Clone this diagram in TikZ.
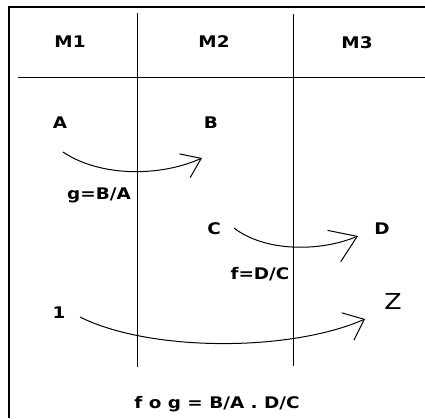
\documentclass[tikz,border=0pt]{standalone}
\usepackage{fontspec}
\setmainfont{DejaVu Sans}[FakeStretch=1.15]
\usetikzlibrary{arrows.meta}
\begin{document}
\begin{tikzpicture}[x=1pt,y=-1pt,
  lbl/.style={inner sep=0pt, anchor=base, font=\fontsize{16}{19}\selectfont\bfseries},
  bigl/.style={inner sep=0pt, anchor=base, font=\fontsize{22}{26}\selectfont},
  frameline/.style={line width=2.5pt},
  gridline/.style={line width=1pt},
  arcline/.style={line width=1pt}]
\useasboundingbox (0,0) rectangle (425,418);
% frame
\draw[frameline] (9,418) -- (9,7) -- (425,7);
% table lines
\draw[gridline] (18,77) -- (425,77);
\draw[gridline] (137,13) -- (137,367);
\draw[gridline] (293,14) -- (293,366);
% headers
\node[lbl] (m1) at (70,47) {M1};
\node[lbl] (m2) at (214,47) {M2};
\node[lbl] (m3) at (357,48) {M3};
% letters
\node[lbl] (A) at (60,128) {A};
\node[lbl] (B) at (211,128) {B};
\node[lbl] (C) at (214,234) {C};
\node[lbl] (D) at (382,234) {D};
\node[lbl] (one) at (59,318) {1};
\node[bigl] (Z) at (393,309) {Z};
% labels
\node[lbl] (g) at (99,199) {g=B/A};
\node[lbl] (f) at (260,279) {f=D/C};
\node[lbl] (fog) at (217,408) {f o g = B/A . D/C};
% connector ends
\coordinate (gs) at (63,152);
\coordinate (ge) at (202,158);
\coordinate (fs) at (234,228);
\coordinate (fe) at (358,236);
\coordinate (hs) at (80,317);
\coordinate (he) at (365,319);
% connectors
\draw[arcline,-{Straight Barb[length=18pt,width=26pt]}] (gs) .. controls (100,177) and (160,177) .. (ge);
\draw[arcline,-{Straight Barb[length=25pt,width=34pt]}] (fs) .. controls (265,252) and (320,252) .. (fe);
\draw[arcline,-{Straight Barb[length=18pt,width=30pt]}] (hs) .. controls (150,352) and (290,352) .. (he);
\end{tikzpicture}
\end{document}
